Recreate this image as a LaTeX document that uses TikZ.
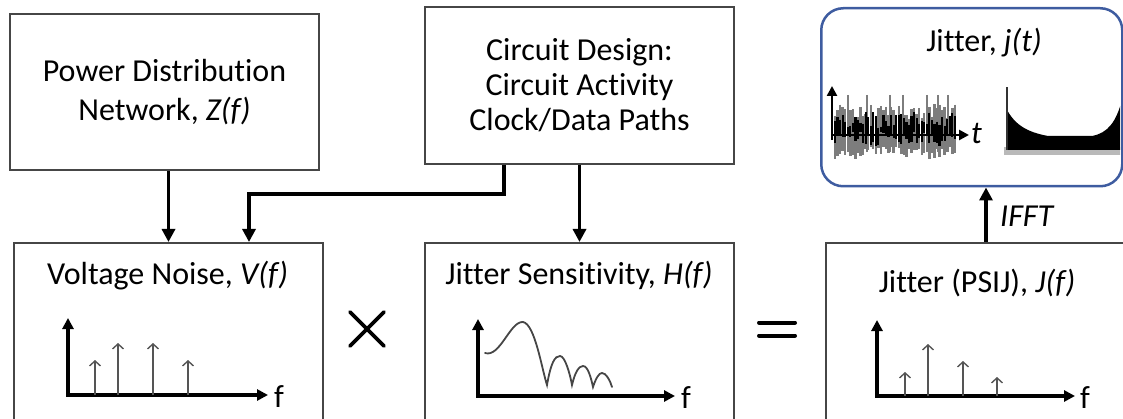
\documentclass[tikz,border=0pt]{standalone}
\usepackage{fontspec}
\setmainfont{Carlito}[Ligatures=NoCommon]
\usetikzlibrary{arrows.meta,calc}
\definecolor{boxgray}{RGB}{70,70,70}
\definecolor{jblue}{RGB}{62,92,160}
\definecolor{spikegray}{RGB}{85,85,85}
\definecolor{wavegray}{RGB}{125,125,125}
\begin{document}
\begin{tikzpicture}[x=1pt,y=-1pt,
  box/.style={draw=boxgray, line width=2pt, minimum width=309pt, anchor=north west,
    inner sep=0pt, align=center, font=\fontsize{32}{39}\selectfont},
  title/.style={anchor=base, inner sep=0pt, font=\fontsize{32}{38}\selectfont},
  arr/.style={line width=3.2pt, -{Triangle[length=13pt,width=13pt]}},
  axis/.style={line width=3.4pt, line join=miter,
    {Triangle[length=11pt,width=11pt]}-{Triangle[length=11pt,width=11pt]}},
  spike/.style={draw=spikegray, line width=1.4pt, -{Straight Barb[length=5pt,width=11pt]}},
  flabel/.style={anchor=west, inner sep=0pt, font=\fontsize{32}{32}\selectfont},
  opline/.style={line width=3.6pt, line cap=round}]
\useasboundingbox (0,0) rectangle (1123,419);
\clip (0,0) rectangle (1123,419);

% upper inputs
\node[box, minimum height=156pt] (pdn) at (9,13)
  {Power Distribution\\Network, \textit{Z(f)}};
\node[box, minimum height=157pt, font=\fontsize{32}{35}\selectfont] (circ) at (424,6)
  {\rule{0pt}{10pt}Circuit Design:\\Circuit Activity\\Clock/Data Paths};

% lower frequency-domain blocks (run past the lower edge)
\node[box, minimum height=200pt] (vn) at (13,242) {};
\node[box, minimum height=200pt] (hs) at (424,242) {};
\node[box, minimum height=200pt] (psij) at (825,242) {};

\node[title] (vnt) at (167.5,285) {Voltage Noise, \textit{V(f)}};
\node[title] (hst) at (579,285) {Jitter Sensitivity, \textit{H(f)}};
\node[title] (psijt) at (977,293) {Jitter (PSIJ), \textit{J(f)}};

% operators between the blocks
\coordinate (times) at (367,329);
\coordinate (equals) at (777,329);
\draw[opline] ($(times)+(-17,-17)$) -- ($(times)+(17,17)$);
\draw[opline] ($(times)+(-17,17)$) -- ($(times)+(17,-17)$);
\draw[opline, line width=4pt] ($(equals)+(-18,-6.5)$) -- ($(equals)+(18,-6.5)$);
\draw[opline, line width=4pt] ($(equals)+(-18,6.5)$) -- ($(equals)+(18,6.5)$);

% connectors
\draw[arr] (vn.north |- pdn.south) -- (vn.north);
\draw[arr] ([xshift=-75.5pt]circ.south) -- ++(0,29) -| ([xshift=80.5pt]vn.north);
\draw[arr] (circ.south) -- (hs.north);

% V(f) spectrum
\draw[axis] (68,318) -- (68,395) -- (268,395);
\foreach \x/\t in {95/360,118/343,153/343,188/360}
  \draw[spike] (\x,395) -- (\x,\t);
\node[flabel] (vf) at (274,397) {f};

% H(f) curve
\draw[axis] (478,319) -- (478,396) -- (675,396);
\draw[draw=boxgray, line width=1.8pt, line cap=round]
  (485,353) .. controls (500,358) and (510,321) .. (523,322)
  .. controls (535,324) and (542,370) .. (547,385)
  .. controls (551,362) and (555,356) .. (560,356)
  .. controls (565,356) and (570,374) .. (572,385)
  .. controls (575,372) and (579,366) .. (583,366)
  .. controls (588,366) and (591,378) .. (593,387)
  .. controls (596,378) and (599,373) .. (602,373)
  .. controls (606,373) and (610,380) .. (612,387);
\node[flabel] (hf) at (681,398) {f};

% J(f) spectrum
\draw[axis] (877,320) -- (877,396) -- (1075,396);
\foreach \x/\t in {905/372,928/344,963/361,997/377}
  \draw[spike] (\x,396) -- (\x,\t);
\node[flabel] (jf) at (1080,398) {f};

% time-domain jitter panel
\begin{scope}
  \clip[rounded corners=22pt] (821,8) rectangle (1120,184);
  % histogram
  \fill[gray!55] (1004,147) rectangle (1124,155);
  \fill[black] (1006,150) -- (1006,108)
    .. controls (1014,124) and (1026,132) .. (1048,136)
    -- (1092,136) .. controls (1108,133) and (1116,122) .. (1122,100)
    -- (1122,150) -- cycle;
  \draw[black!80, line width=1.6pt] (1007,150) -- (1007,87);
  % noisy waveform
  \pgfmathsetseed{11}
  \foreach \i in {0,...,47} {
    \pgfmathsetmacro\xx{835+2.55*\i}
    \pgfmathsetmacro\ta{104+18*rnd}
    \pgfmathsetmacro\ba{146+14*rnd}
    \draw[wavegray, line width=2.4pt] (\xx,\ta) -- (\xx,\ba);
  }
  \foreach \x in {848,867,890,903,927,938,948}
    \draw[wavegray, line width=2.2pt] (\x,95) -- (\x,152);
  \foreach \i in {0,...,47} {
    \pgfmathsetmacro\xx{835+2.55*\i}
    \pgfmathsetmacro\ta{112+16*rnd}
    \pgfmathsetmacro\ba{132+14*rnd}
    \draw[black, line width=2.2pt] (\xx,\ta) -- (\xx,\ba);
  }
  \draw[line width=2.8pt, -{Triangle[length=10pt,width=10pt]}] (832,140) -- (832,86);
  \draw[line width=2.8pt, -{Triangle[length=10pt,width=10pt]}] (832,135) -- (969,135);
\end{scope}
\node[draw=jblue, line width=2.5pt, rounded corners=22pt, minimum width=301pt,
  minimum height=178pt, anchor=north west, inner sep=0pt] (jit) at (820,7) {};
\node[title] (jitt) at (984,52) {Jitter, \textit{j(t)}};
\node[flabel, font=\itshape\fontsize{32}{32}\selectfont] (tlab) at (971,134) {t};

% inverse transform
\draw[arr] ([xshift=5.5pt]psij.north) -- ([xshift=5.5pt]psij.north |- jit.south);
\node[anchor=base west, inner sep=0pt, font=\itshape\fontsize{32}{32}\selectfont]
  (ifft) at (1000,227) {IFFT};
\end{tikzpicture}
\end{document}
